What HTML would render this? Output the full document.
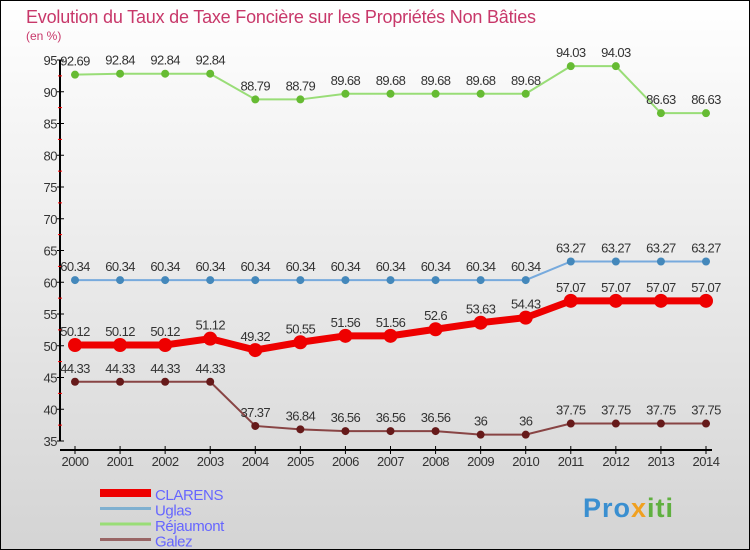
<!DOCTYPE html>
<html><head><meta charset="utf-8"><style>
body{margin:0;width:750px;height:550px;overflow:hidden}
svg{display:block;font-family:"Liberation Sans","DejaVu Sans",sans-serif}
</style></head><body>
<svg width="750" height="550" viewBox="0 0 750 550">
<defs><linearGradient id="bg" x1="0" y1="0" x2="0" y2="1"><stop offset="0" stop-color="#ffffff"/><stop offset="1" stop-color="#d4d4d4"/></linearGradient></defs>
<rect x="0.5" y="0.5" width="749" height="549" fill="url(#bg)" stroke="#000"/>
<text x="26" y="23" font-size="18" fill="#c8386a" letter-spacing="-0.2">Evolution du Taux de Taxe Foncière sur les Propriétés Non Bâties</text>
<text x="26" y="40" font-size="12" fill="#c8386a">(en %)</text>
<g id="axes"></g><g id="series"></g><g id="legend"></g>
<text x="583" y="517" font-size="27" font-weight="bold" fill="#3a8fd0" letter-spacing="1">Pro<tspan fill="#f0a020">x</tspan><tspan fill="#60b040">iti</tspan></text>
</svg>
<script>
const years=[2000,2001,2002,2003,2004,2005,2006,2007,2008,2009,2010,2011,2012,2013,2014];
const yTicks=[35,40,45,50,55,60,65,70,75,80,85,90,95];
const seriesNames=["Réjaumont","Uglas","CLARENS","Galez"];
const rejaumont=[92.69,92.84,92.84,92.84,88.79,88.79,89.68,89.68,89.68,89.68,89.68,94.03,94.03,86.63,86.63];
const uglas=[60.34,60.34,60.34,60.34,60.34,60.34,60.34,60.34,60.34,60.34,60.34,63.27,63.27,63.27,63.27];
const clarens=[50.12,50.12,50.12,51.12,49.32,50.55,51.56,51.56,52.6,53.63,54.43,57.07,57.07,57.07,57.07];
const galez=[44.33,44.33,44.33,44.33,37.37,36.84,36.56,36.56,36.56,36,36,37.75,37.75,37.75,37.75];
const NS="http://www.w3.org/2000/svg";
const X=i=>75+i*(631/14), Y=v=>441-(v-35)*(381/60);
function mk(t,a,p){const e=document.createElementNS(NS,t);for(const k in a)e.setAttribute(k,a[k]);p.appendChild(e);return e;}
const ax=document.getElementById('axes');
let e=mk('line',{x1:60,y1:Y(95),x2:60,y2:Y(35),stroke:'#000','stroke-width':2},ax);


e=mk('line',{x1:60,y1:450,x2:712,y2:450,stroke:'#000','stroke-width':2},ax);


yTicks.forEach(v=>{
  mk('line',{x1:57,x2:64,y1:Y(v),y2:Y(v),stroke:'#000'},ax);
  if(v<95)mk('line',{x1:58,x2:62,y1:Y(v+2.5),y2:Y(v+2.5),stroke:'#f00'},ax);
  const t=mk('text',{x:57,y:Y(v)+5,'font-size':13,fill:'#333','text-anchor':'end','letter-spacing':'-0.5'},ax);
  t.textContent=v;
  
  
});
years.forEach((yr,i)=>{
  mk('line',{x1:X(i),x2:X(i),y1:446,y2:454,stroke:'#000'},ax);
  const t=mk('text',{x:X(i),y:466,'font-size':13,fill:'#333','text-anchor':'middle','letter-spacing':'-0.5'},ax);
  t.textContent=yr;
  
  
});
const sg=document.getElementById('series');
function draw(data,name,color,dot,w,r){
  const g=mk('g',{},sg);
  
  
  const pl=mk('polyline',{points:data.map((v,i)=>X(i)+','+Y(v)).join(' '),fill:'none',stroke:color,'stroke-width':w},g);
  
  
  data.forEach((v,i)=>{
    const c=mk('circle',{cx:X(i),cy:Y(v),r:r,fill:dot},g);
    
    
    const t=mk('text',{x:X(i),y:Y(v)-9,'font-size':13,fill:'#333','text-anchor':'middle','letter-spacing':'-0.6'},g);
    t.textContent=String(v);
    
    
  });
}
draw(rejaumont,'rejaumont','#99dd77','#66bb33',2,4);
draw(uglas,'uglas','#77aadd','#4488bb',2,4);
draw(galez,'galez','#884444','#661a1a',2,4);
draw(clarens,'clarens','#ee0000','#ee0000',7,7);
const lg=document.getElementById('legend');
const lcol=['#ee0000','#7fb0d0','#99dd77','#996666'],lw=[8,3,3,3],ln=["CLARENS","Uglas","Réjaumont","Galez"];
ln.forEach((n,i)=>{
  const y=493+i*15.5;
  const l=mk('line',{x1:100,x2:151,y1:y,y2:y,stroke:lcol[i],'stroke-width':lw[i]},lg);
  
  
  const t=mk('text',{x:155,y:y+7,'font-size':15,fill:'#6666ff','letter-spacing':'-0.4'},lg);
  t.textContent=n;
  
  
});
</script>
</body></html>
